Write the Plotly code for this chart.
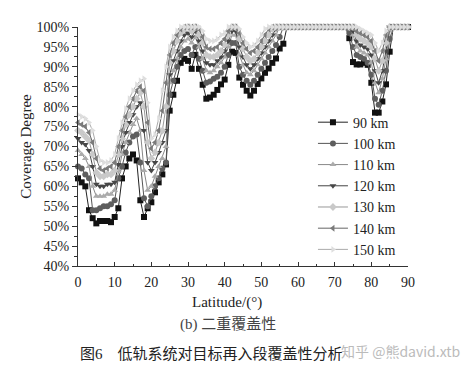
import plotly.graph_objects as go

latitude = list(range(0, 91))

cov_90 = [62, 61, 60, 54, 52, 50.7, 51.3, 51.3, 51.3, 51, 52.3, 54.5, 62, 65, 67, 68, 66.5, 56.5, 52.3, 54.5,
          56, 58.5, 61, 63, 65.5, 79, 83, 86.5, 91, 92, 91.5, 89.5, 93, 89.5, 85.5, 82, 82.3, 83, 84.2, 85.6,
          86.8, 90.5, 93.8, 93.5, 87.3, 85.5, 84, 82.8, 84, 85.7, 87.1, 88.5, 89.6, 91, 92.1, 94.6, 95.8, 100, 100, 100,
          100, 100, 100, 100, 100, 100, 100, 100, 100, 100, 100, 100, 100, 100, 97.2, 91.2, 90.6, 90.6, 91, 90.5,
          86, 78.5, 78.5, 81.3, 85.6, 93.8, 100, 100, 100, 100, 100]
cov_100 = [65, 64.5, 63, 62, 54, 54, 54.5, 55, 55, 55.5, 56.5, 62, 65, 68.5, 71, 72.5, 73, 66, 57, 55,
           57.5, 60, 62, 64.5, 66, 83, 86.5, 90, 93, 94, 94.5, 93, 95, 92, 89, 86, 86.3, 87, 87.5, 88.5,
           90, 93, 96, 96, 90, 88, 86.5, 85.5, 86.5, 88, 89.5, 91, 92.5, 94, 95.5, 97.5, 100, 100, 100, 100,
           100, 100, 100, 100, 100, 100, 100, 100, 100, 100, 100, 100, 100, 100, 98.5, 95, 93, 92.5, 92, 91,
           88, 82, 80.5, 84, 89, 97, 100, 100, 100, 100, 100]
cov_110 = [69, 68, 67, 65, 60, 57.5, 57.5, 57.5, 58, 58, 59, 64, 68, 71, 73.5, 75.5, 77, 74, 64, 59,
           60, 62.5, 65, 67, 70, 86, 89, 92, 95, 96.5, 97, 96, 97.5, 95, 92, 89, 88.5, 89, 90, 91,
           92.5, 95, 98, 98, 93, 90.5, 88.5, 88, 89, 90.5, 92, 93.5, 95, 96.5, 98, 100, 100, 100, 100, 100,
           100, 100, 100, 100, 100, 100, 100, 100, 100, 100, 100, 100, 100, 100, 100, 98, 95, 94, 93.5, 93,
           91, 86, 83.5, 87, 92, 99, 100, 100, 100, 100, 100]
cov_120 = [72, 71, 70.5, 69, 65, 60.5, 60, 60, 60.5, 60.5, 61, 65.5, 70, 73.5, 76, 78, 80, 81, 74, 66,
           64, 66, 68.5, 71, 74, 88, 91.5, 94, 96.5, 98, 98.5, 97.5, 99, 96.5, 94, 91, 90.5, 90.5, 91.5, 92.5,
           94, 96.5, 99, 99, 95, 92.5, 90.5, 89.5, 90.5, 92, 93.5, 95, 96.5, 98, 99.5, 100, 100, 100, 100, 100,
           100, 100, 100, 100, 100, 100, 100, 100, 100, 100, 100, 100, 100, 100, 100, 99, 96.5, 95.5, 95, 94.5,
           93, 89, 86, 89, 94, 100, 100, 100, 100, 100, 100]
cov_130 = [74, 73.5, 72.5, 71.5, 68, 63.5, 62.5, 62.5, 63, 63, 64, 68, 72, 75.5, 78, 80, 82, 83.5, 80, 71,
           67, 68.5, 71, 74, 80, 91, 94, 96.5, 98.5, 99.5, 100, 99, 100, 98, 96, 93, 92.5, 92.5, 93, 94,
           95.5, 98, 100, 100, 97, 94.5, 92.5, 91.5, 92, 93.5, 95, 96.5, 98, 99.5, 100, 100, 100, 100, 100, 100,
           100, 100, 100, 100, 100, 100, 100, 100, 100, 100, 100, 100, 100, 100, 100, 100, 98, 97, 96.5, 96,
           95, 92, 89, 91.5, 96, 100, 100, 100, 100, 100, 100]
cov_140 = [76, 75.5, 75, 73.5, 71, 67, 64.5, 64, 64.5, 65, 66, 70, 74, 77.5, 80, 82, 84, 85, 84, 76,
           69.5, 71, 74, 79, 86, 93, 96, 98, 99.5, 100, 100, 100, 100, 99.5, 97.5, 95, 94.5, 94.5, 95, 96,
           97, 99, 100, 100, 98.5, 96, 94.5, 93.5, 94, 95, 96.5, 98, 99.5, 100, 100, 100, 100, 100, 100, 100,
           100, 100, 100, 100, 100, 100, 100, 100, 100, 100, 100, 100, 100, 100, 100, 100, 99, 98.5, 98, 97.5,
           96.5, 94, 91.5, 94, 98, 100, 100, 100, 100, 100, 100]
cov_150 = [78, 77.5, 77, 76, 74, 70, 66.5, 66, 66, 66.5, 68, 72, 76, 79.5, 82, 84, 85.5, 86.5, 87, 81,
           72, 73, 77, 84, 90, 95, 97.5, 99, 100, 100, 100, 100, 100, 100, 99, 97, 96.5, 96.5, 97, 98,
           98.5, 100, 100, 100, 99.5, 97.5, 96, 95, 95.5, 96.5, 98, 99.5, 100, 100, 100, 100, 100, 100, 100, 100,
           100, 100, 100, 100, 100, 100, 100, 100, 100, 100, 100, 100, 100, 100, 100, 100, 100, 99.5, 99, 98.5,
           98, 96, 94, 96, 99, 100, 100, 100, 100, 100, 100]

series_names = ["90 km", "100 km", "110 km", "120 km", "130 km", "140 km", "150 km"]
series_values = [cov_90, cov_100, cov_110, cov_120, cov_130, cov_140, cov_150]
marker_symbols = ["square", "circle", "triangle-up", "triangle-down", "diamond", "triangle-left", "triangle-right"]
marker_colors = ["#111111", "#5e5e5e", "#ababab", "#474747", "#c9c9c9", "#7a7a7a", "#dedede"]
line_colors = ["#222222", "#555555", "#888888", "#444444", "#999999", "#666666", "#aaaaaa"]

y_ticks = list(range(40, 101, 5))
y_tick_labels = [f"{v}%" for v in y_ticks]
x_ticks = list(range(0, 91, 10))

serif = "Liberation Serif, Times New Roman, serif"

fig = go.Figure()
for name, vals, sym, mc, lc in zip(series_names, series_values, marker_symbols, marker_colors, line_colors):
    fig.add_trace(go.Scatter(
        x=latitude, y=vals, name=name, mode="lines+markers",
        line=dict(color=lc, width=1),
        marker=dict(symbol=sym, size=6, color=mc, line=dict(width=0)),
        cliponaxis=False,
    ))

fig.update_layout(
    width=466, height=364,
    margin=dict(l=70, r=66, t=16, b=106),
    paper_bgcolor="white", plot_bgcolor="white",
    font=dict(family=serif, size=14, color="#222222"),
    showlegend=True,
    legend=dict(
        x=0.712, y=0.667, xanchor="left", yanchor="top",
        bgcolor="rgba(255,255,255,0)", font=dict(family=serif, size=14, color="#222222"),
        tracegroupgap=0, itemwidth=30,
    ),
    xaxis=dict(
        range=[0, 90], tickvals=x_ticks, showgrid=False, zeroline=False,
        showline=True, linecolor="#333333", linewidth=1.2,
        ticks="inside", ticklen=4, tickcolor="#333333",
        minor=dict(dtick=5, ticks="inside", ticklen=2, tickcolor="#333333"),
        tickfont=dict(family=serif, size=14), ticklabelstandoff=3,
    ),
    yaxis=dict(
        range=[40, 100], tickvals=y_ticks, ticktext=y_tick_labels, showgrid=False, zeroline=False,
        showline=True, linecolor="#333333", linewidth=1.2,
        ticks="outside", ticklen=5, tickcolor="#333333",
        minor=dict(dtick=2.5, ticks="outside", ticklen=3, tickcolor="#333333"),
        tickfont=dict(family=serif, size=14),
        title=dict(text="Coverage Degree", font=dict(family=serif, size=15), standoff=1),
    ),
)

fig.add_annotation(text="Latitude/(°)", x=0.4515, y=-0.153, xref="paper", yref="paper",
                   xanchor="center", yanchor="middle", showarrow=False,
                   font=dict(family=serif, size=15, color="#222222"))
fig.add_annotation(text="(b) 二重覆盖性", x=0.4545, y=-0.244, xref="paper", yref="paper",
                   xanchor="center", yanchor="middle", showarrow=False,
                   font=dict(family="Liberation Serif, Noto Sans CJK SC", size=15, color="#444444"))
fig.add_annotation(text="图6　低轨系统对目标再入段覆盖性分析", x=0.0, y=-0.368, xref="paper", yref="paper",
                   xanchor="left", yanchor="middle", showarrow=False,
                   font=dict(family="Liberation Serif, Noto Sans CJK SC", size=15, color="#222222"))
fig.add_annotation(text="知乎 @熊david.xtb", x=1.164, y=-0.355, xref="paper", yref="paper",
                   xanchor="right", yanchor="middle", showarrow=False,
                   font=dict(family="Noto Sans CJK SC", size=14, color="#bbbbbb"))

fig.write_html("out.html")
